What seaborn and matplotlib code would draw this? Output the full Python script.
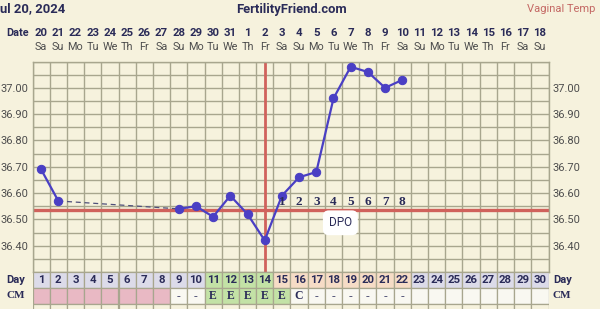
import numpy as np
import pandas as pd
import matplotlib
matplotlib.use("Agg")
import matplotlib.pyplot as plt
import matplotlib.transforms as mtransforms
import seaborn as sns

# ---------------- data ----------------
cycle_days = list(range(1, 31))
date_numbers = [20, 21, 22, 23, 24, 25, 26, 27, 28, 29, 30, 31,
                1, 2, 3, 4, 5, 6, 7, 8, 9, 10, 11, 12, 13, 14, 15, 16, 17, 18]
weekdays = ["Sa", "Su", "Mo", "Tu", "We", "Th", "Fr"] * 4 + ["Sa", "Su"]

temp_days = [1, 2, 9, 10, 11, 12, 13, 14, 15, 16, 17, 18, 19, 20, 21, 22]
temps = [36.69, 36.57, 36.54, 36.55, 36.51, 36.59, 36.52, 36.42,
         36.59, 36.66, 36.68, 36.96, 37.08, 37.06, 37.00, 37.03]
segments = [0, 0, 1, 1, 1, 1, 1, 1, 1, 1, 1, 1, 1, 1, 1, 1]
gap_days = [2, 9]
gap_temps = [36.57, 36.54]

coverline = 36.535
ovulation_day = 14
dpo_days = [15, 16, 17, 18, 19, 20, 21, 22]
dpo_labels = ["1", "2", "3", "4", "5", "6", "7", "8"]

cm_values = [""] * 8 + ["-", "-", "E", "E", "E", "E", "E", "C",
                        "-", "-", "-", "-", "-", "-"] + [""] * 8

ytick_vals = [36.40, 36.50, 36.60, 36.70, 36.80, 36.90, 37.00]
ytick_labels = ["36.40", "36.50", "36.60", "36.70", "36.80", "36.90", "37.00"]

# ---------------- style ----------------
BG = "#f6f2dd"
GRID = "#a8a68e"
RED = "#d0625c"
LINE = "#4a3fc4"
NAVY = "#2a2b58"
GREY = "#4d4d4d"

sns.set_theme(style="white", rc={"axes.facecolor": BG, "figure.facecolor": BG})
plt.rcParams["font.family"] = ["Roboto", "DejaVu Sans"]

W, H = 600, 309
fig = plt.figure(figsize=(W / 100, H / 100), dpi=100)

x_left, x_right = 32.5, 548.5
y_top, y_bot = 61.5, 272.0
ax = fig.add_axes([x_left / W, 1 - y_bot / H, (x_right - x_left) / W, (y_bot - y_top) / H])
ax2 = fig.add_axes([x_left / W, 0, (x_right - x_left) / W, (H - y_bot) / H])

# ---------------- main chart ----------------
ax.set_xlim(0.5, 30.5)
ax.set_ylim(36.30, 37.10)
ax.set_xticks([])
ax.set_xticks(np.arange(0.5, 31, 1), minor=True)
ax.set_yticks(ytick_vals)
ax.set_yticklabels(ytick_labels)
ax.set_yticks(np.arange(36.30, 37.101, 0.05), minor=True)
ax.grid(which="both", color=GRID, linewidth=1.0)
ax.set_axisbelow(True)
ax.tick_params(which="both", length=0, labelsize=8, labelcolor=GREY,
               labelleft=True, labelright=True, pad=3)
for s in ax.spines.values():
    s.set_color(GRID)
    s.set_linewidth(1.0)

ax.axhline(coverline, color=RED, linewidth=2.4, zorder=2)
ax.axvline(ovulation_day, color=RED, linewidth=2.0, zorder=2)

gap_df = pd.DataFrame({"day": gap_days, "temp": gap_temps})
sns.lineplot(data=gap_df, x="day", y="temp", ax=ax, color="#50507a",
             linewidth=0.9, linestyle=(0, (4, 3)), zorder=3)

df = pd.DataFrame({"day": temp_days, "temp": temps, "seg": segments})
sns.lineplot(data=df, x="day", y="temp", units="seg", estimator=None, ax=ax,
             color=LINE, linewidth=1.6, marker="o", markersize=6,
             markeredgecolor=LINE, markerfacecolor=LINE, zorder=4)
ax.set_xlabel("")
ax.set_ylabel("")

for d, lab in zip(dpo_days, dpo_labels):
    ax.text(d, 36.567, lab, ha="center", va="center", fontsize=9.5,
            fontweight="bold", color=NAVY, family=["Liberation Serif"], zorder=5)

ax.text(18.4, 36.487, "DPO", ha="center", va="center", fontsize=8.5, color=NAVY,
        zorder=5, bbox=dict(boxstyle="round,pad=0.5", fc="white", ec="none"))

# date header rows
trans = mtransforms.blended_transform_factory(ax.transData, fig.transFigure)
for d, num, wd in zip(cycle_days, date_numbers, weekdays):
    ax.text(d, 1 - 33 / H, str(num), transform=trans, ha="center", va="center",
            fontsize=8.2, fontweight="bold", color=NAVY, clip_on=False)
    ax.text(d, 1 - 47.5 / H, wd, transform=trans, ha="center", va="center",
            fontsize=7.8, color=GREY, clip_on=False)
fig.text(18 / W, 1 - 33.5 / H, "Date", ha="center", va="center", fontsize=7.8,
         fontweight="bold", color=NAVY)

fig.text(0, 1 - 9 / H, "ul 20, 2024", ha="left", va="center", fontsize=9.4,
         fontweight="bold", color=NAVY)
fig.text(291 / W, 1 - 9 / H, "FertilityFriend.com", ha="center", va="center",
         fontsize=9.4, fontweight="bold", color=NAVY)
fig.text(595 / W, 1 - 9 / H, "Vaginal Temp", ha="right", va="center",
         fontsize=8, color="#c46864")

# ---------------- bottom rows ----------------
row_h = 16.0
ax2.set_xlim(0.5, 30.5)
ax2.set_ylim((H - y_bot) / row_h, 0)
ax2.axis("off")

LAV = "#dcdbe9"
GREEN = "#c3e2a6"
PEACH = "#f6dcc6"
PINK = "#e9b9c4"
WHITE = "#f9f8f1"

day_colors = [LAV if d <= 10 else GREEN if d <= 14 else PEACH if d <= 22 else LAV
              for d in cycle_days]
cm_colors = [PINK if d <= 8 else GREEN if 11 <= d <= 15 else WHITE for d in cycle_days]

ax2.bar(cycle_days, [1] * 30, bottom=0, width=1.0, color=day_colors,
        edgecolor=GRID, linewidth=0.9)
ax2.bar(cycle_days, [1] * 30, bottom=1, width=1.0, color=cm_colors,
        edgecolor=GRID, linewidth=0.9)
ax2.bar(cycle_days, [1] * 30, bottom=2, width=1.0, color=BG,
        edgecolor=GRID, linewidth=0.9)

for d in cycle_days:
    ax2.text(d, 0.5, str(d), ha="center", va="center", fontsize=8.2,
             fontweight="bold", color=NAVY)
for d, v in zip(cycle_days, cm_values):
    if v:
        ax2.text(d, 1.5, v, ha="center", va="center", fontsize=8.5,
                 fontweight="bold", color=NAVY, family=["Liberation Serif"])

ax2.text(-0.45, 0.5, "Day", ha="center", va="center", fontsize=8,
         fontweight="bold", color=NAVY, clip_on=False)
ax2.text(-0.45, 1.5, "CM", ha="center", va="center", fontsize=8,
         fontweight="bold", color=NAVY, family=["Liberation Serif"], clip_on=False)
ax2.text(30.75, 0.5, "Day", ha="left", va="center", fontsize=8,
         fontweight="bold", color=NAVY, clip_on=False)
ax2.text(30.75, 1.5, "CM", ha="left", va="center", fontsize=8,
         fontweight="bold", color=NAVY, family=["Liberation Serif"], clip_on=False)

fig.savefig("out.png", dpi=100, facecolor=BG)
